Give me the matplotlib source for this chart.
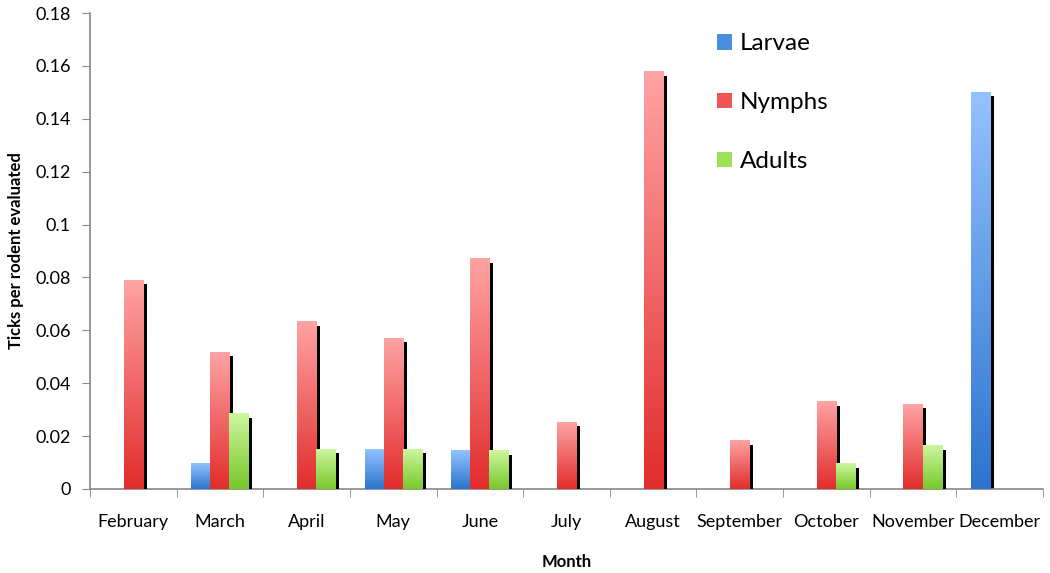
import numpy as np
import matplotlib
matplotlib.use("Agg")
import matplotlib.pyplot as plt
from matplotlib.colors import LinearSegmentedColormap
from matplotlib.patches import Patch

months = ["February", "March", "April", "May", "June", "July", "August",
          "September", "October", "November", "December"]
larvae = [0, 0.0095, 0, 0.0151, 0.0144, 0, 0, 0, 0, 0, 0.150]
nymphs = [0.079, 0.0518, 0.0632, 0.0571, 0.087, 0.0253, 0.1577, 0.0182, 0.0329, 0.0321, 0]
adults = [0, 0.0284, 0.0151, 0.0151, 0.0144, 0, 0, 0, 0.0095, 0.0163, 0]
yticks = [0, 0.02, 0.04, 0.06, 0.08, 0.1, 0.12, 0.14, 0.16, 0.18]

# gradient colours: (top, bottom)
series = [
    ("Larvae", larvae, ("#93c2ff", "#2c74cc"), "#4a8ee0"),
    ("Nymphs", nymphs, ("#ffa3a3", "#e22c2c"), "#f05656"),
    ("Adults", adults, ("#cdf7a0", "#78c82a"), "#9ee05a"),
]

plt.rcParams["font.family"] = ["Lato", "DejaVu Sans"]

fig = plt.figure(figsize=(10.5, 5.73), dpi=100)
ax = fig.add_axes([0.0857, 0.1466, 0.9076, 0.8307])

x = np.arange(len(months))
w = 0.22
dx = 0.045   # shadow offset (x, data units)
dy = 0.0015  # shadow offset (y, data units)

grad = np.linspace(1, 0, 256).reshape(-1, 1)
for i, (name, vals, (ctop, cbot), _) in enumerate(series):
    cmap = LinearSegmentedColormap.from_list(name, [cbot, ctop])
    pos = x + (i - 1) * w
    for xp, v in zip(pos, vals):
        if v <= 0:
            continue
        ax.bar(xp + dx, max(v - dy, 0), width=w, color="black", zorder=2 + i * 2)
        ax.imshow(grad, extent=(xp - w / 2, xp + w / 2, 0, v), cmap=cmap,
                  aspect="auto", origin="upper", zorder=3 + i * 2,
                  vmin=0, vmax=1, interpolation="bilinear")

ax.set_xlim(-0.5, len(months) - 0.5)
ax.set_ylim(0, 0.18)

ax.set_xticks(x)
ax.set_xticklabels(months, fontsize=13)
ax.set_xticks(np.arange(-0.5, len(months)), minor=True)
ax.tick_params(axis="x", which="major", length=0, pad=18)
ax.tick_params(axis="x", which="minor", length=6, direction="out", color="#888888")
ax.set_yticks(yticks)
ax.set_yticklabels([f"{v:g}" for v in yticks], fontsize=13)
ax.tick_params(axis="y", length=6, direction="out", color="#888888", pad=8)

for s in ["top", "right"]:
    ax.spines[s].set_visible(False)
for s in ["left", "bottom"]:
    ax.spines[s].set_color("#888888")
    ax.spines[s].set_linewidth(1.2)

ax.set_xlabel("Month", fontsize=12, fontweight="bold", labelpad=17)
ax.set_ylabel("Ticks per rodent evaluated", fontsize=12, fontweight="bold", labelpad=8)

handles = [Patch(facecolor=c, edgecolor="none") for _, _, _, c in series]
ax.legend(handles, [s[0] for s in series], loc="upper left",
          bbox_to_anchor=(0.635, 1.003), frameon=False, fontsize=17.5,
          handlelength=0.6, handleheight=0.6, handletextpad=0.35,
          labelspacing=1.55)

fig.savefig("out.png", dpi=100)
